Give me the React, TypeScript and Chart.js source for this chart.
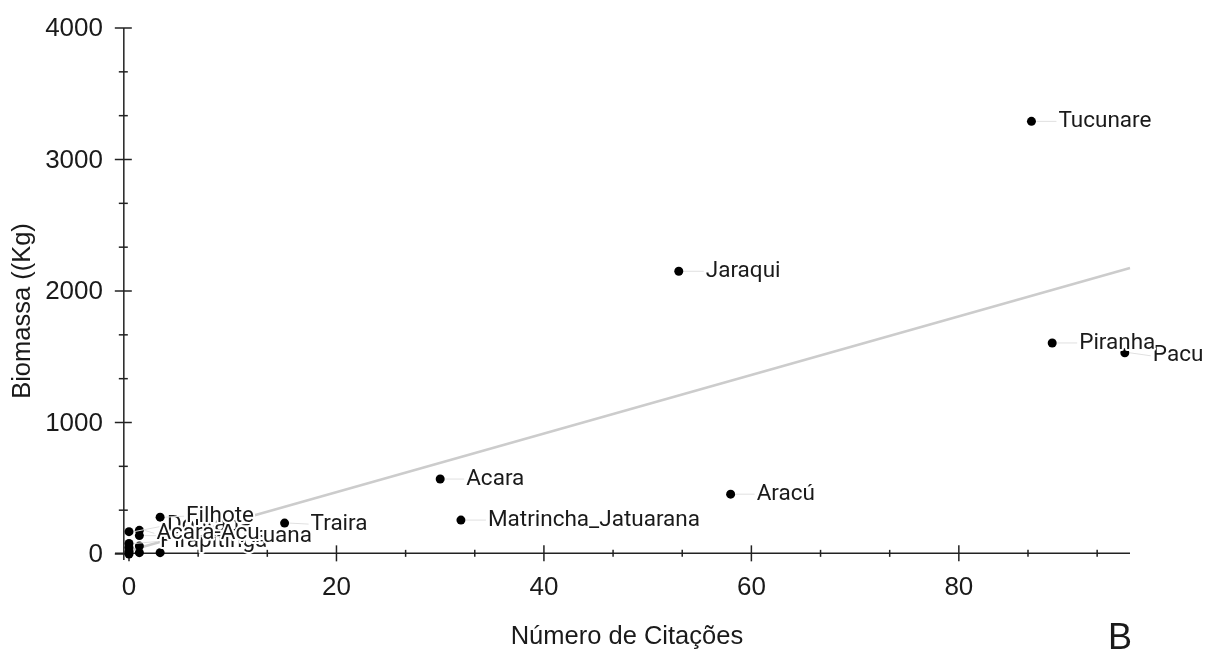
import React, { useEffect, useRef } from "react";
import { Chart, registerables } from "chart.js";

Chart.register(...registerables);

// ---- data ----
const species = [
  "Tucunare", "Jaraqui", "Pacu", "Piranha", "Aracú", "Acara",
  "Matrincha_Jatuarana", "Traira", "Pirapitinga", "Aruana",
  "Dourada", "Acara-Acu", "Filhote", "", "", "", "", "", "",
];
const citations = [87, 53, 96, 89, 58, 30, 32, 15, 0, 1, 0, 1, 3, 0, 0, 0, 1, 1, 3];
const biomass = [3290, 2150, 1530, 1605, 455, 570, 258, 235, 80, 140, 170, 180, 280, 50, 20, 0, 60, 10, 10];

// fitted line
const trendX = [0, 96.5];
const trendY = [25, 2175];

// tick labels
const xTicks = [0, 20, 40, 60, 80];
const yTicks = [0, 1000, 2000, 3000, 4000];

// label placement (pixels, relative to the point) – layout only
const labelOffsets: [number, number][] = [
  [27, 0], [27, 0], [28, 3], [27, 0], [26, 0], [26, 0],
  [27, 0], [26, 1], [31, -2], [101, 1],
  [38, -6], [17, 3], [26, -1], [0, 0], [0, 0], [0, 0], [0, 0], [0, 0], [0, 0],
];

const TICK_FONT = '26px "Liberation Sans", Arial, sans-serif';
const LABEL_FONT = '22.5px Roboto, "Noto Sans", sans-serif';

const axesPlugin = {
  id: "customAxes",
  beforeDatasetsDraw(chart: any) {
    const { ctx, scales, chartArea } = chart;
    const xs = scales.x;
    const ys = scales.y;
    const axisY = ys.getPixelForValue(5);
    const axisX = xs.getPixelForValue(-0.5);
    ctx.save();
    ctx.strokeStyle = "#222";
    ctx.lineWidth = 1.5;
    // y axis
    ctx.beginPath();
    ctx.moveTo(axisX, ys.getPixelForValue(4000));
    ctx.lineTo(axisX, chartArea.bottom);
    ctx.stroke();
    // x axis
    ctx.beginPath();
    ctx.moveTo(chartArea.left, axisY);
    ctx.lineTo(chartArea.right, axisY);
    ctx.stroke();

    // y ticks
    const yStep = yTicks[1] - yTicks[0];
    for (let i = 0; i < yTicks.length; i++) {
      const py = ys.getPixelForValue(yTicks[i]);
      ctx.beginPath();
      ctx.moveTo(axisX - 9, py);
      ctx.lineTo(axisX + 8, py);
      ctx.stroke();
      if (i < yTicks.length - 1) {
        for (let k = 1; k < 3; k++) {
          const pm = ys.getPixelForValue(yTicks[i] + (yStep * k) / 3);
          ctx.beginPath();
          ctx.moveTo(axisX - 5, pm);
          ctx.lineTo(axisX + 4, pm);
          ctx.stroke();
        }
      }
    }
    // x ticks
    const xStep = xTicks[1] - xTicks[0];
    const xMax = xs.max;
    for (let i = 0; i < xTicks.length; i++) {
      const px = xs.getPixelForValue(xTicks[i]);
      ctx.beginPath();
      ctx.moveTo(px, axisY - 8);
      ctx.lineTo(px, axisY + 8);
      ctx.stroke();
      for (let k = 1; k < 3; k++) {
        const v = xTicks[i] + (xStep * k) / 3;
        if (v > xMax) continue;
        const pm = xs.getPixelForValue(v);
        ctx.beginPath();
        ctx.moveTo(pm, axisY - 3.5);
        ctx.lineTo(pm, axisY + 3.5);
        ctx.stroke();
      }
    }

    // tick labels
    ctx.fillStyle = "#1a1a1a";
    ctx.font = TICK_FONT;
    ctx.textAlign = "right";
    ctx.textBaseline = "middle";
    yTicks.forEach((t) => {
      ctx.fillText(String(t), 103, ys.getPixelForValue(t) + 1);
    });
    ctx.textAlign = "center";
    xTicks.forEach((t) => {
      ctx.fillText(String(t), xs.getPixelForValue(t), 588);
    });

    // axis titles
    ctx.font = '25.5px "Liberation Sans", Arial, sans-serif';
    ctx.textAlign = "center";
    ctx.fillText("Número de Citações", (axisX + chartArea.right) / 2, 637);
    ctx.save();
    ctx.translate(23, 311);
    ctx.rotate(-Math.PI / 2);
    ctx.fillText("Biomassa ((Kg)", 0, 0);
    ctx.restore();

    // panel tag
    ctx.font = '36px "Liberation Sans", Arial, sans-serif';
    ctx.textAlign = "left";
    ctx.textBaseline = "alphabetic";
    ctx.fillText("B", 1108, 649);
    ctx.restore();
  },
  afterDatasetsDraw(chart: any) {
    const { ctx, scales } = chart;
    const xs = scales.x;
    const ys = scales.y;
    ctx.save();
    ctx.font = LABEL_FONT;
    ctx.textAlign = "left";
    ctx.textBaseline = "middle";
    for (let i = 0; i < species.length; i++) {
      const name = species[i];
      if (!name) continue;
      const px = xs.getPixelForValue(citations[i]);
      const py = ys.getPixelForValue(biomass[i]);
      const [dx, dy] = labelOffsets[i];
      const lx = px + dx;
      const ly = py + dy;
      // leader segment
      ctx.strokeStyle = "#e0e0e0";
      ctx.lineWidth = 1;
      ctx.beginPath();
      ctx.moveTo(px + 5, py);
      ctx.lineTo(lx - 2, ly);
      ctx.stroke();
      // halo + text
      ctx.strokeStyle = "#ffffff";
      ctx.lineWidth = 4;
      ctx.lineJoin = "round";
      ctx.strokeText(name, lx, ly);
      ctx.fillStyle = "#1a1a1a";
      ctx.fillText(name, lx, ly);
    }
    ctx.restore();
  },
};

export default function App() {
  const canvasRef = useRef<HTMLCanvasElement | null>(null);
  useEffect(() => {
    if (!canvasRef.current) return;
    const pts = citations.map((c, i) => ({ x: c, y: biomass[i] }));
    const trend = trendX.map((x, i) => ({ x, y: trendY[i] }));
    const chart = new Chart(canvasRef.current, {
      type: "scatter",
      data: {
        datasets: [
          {
            data: pts,
            backgroundColor: "#000000",
            borderWidth: 0,
            pointRadius: 4.5,
            pointHoverRadius: 4.5,
            clip: false as any,
          },
          {
            type: "line" as any,
            data: trend,
            borderColor: "#cccccc",
            borderWidth: 2.5,
            pointRadius: 0,
            showLine: true,
            fill: false,
            clip: false as any,
          },
        ],
      },
      options: {
        responsive: false,
        animation: false,
        layout: { padding: { left: 115, right: 75, top: 28, bottom: 91 } },
        scales: {
          x: { type: "linear", min: -1.35, max: 96.5, display: false },
          y: { type: "linear", min: -45.6, max: 4000, display: false },
        },
        plugins: { legend: { display: false }, tooltip: { enabled: false } },
        events: [],
      },
      plugins: [axesPlugin],
    });
    return () => chart.destroy();
  }, []);
  return (
    <div style={{ position: "fixed", left: 0, top: 0, width: 1205, height: 651, background: "#fff" }}>
      <canvas ref={canvasRef} width={1205} height={651} style={{ display: "block" }} />
    </div>
  );
}
